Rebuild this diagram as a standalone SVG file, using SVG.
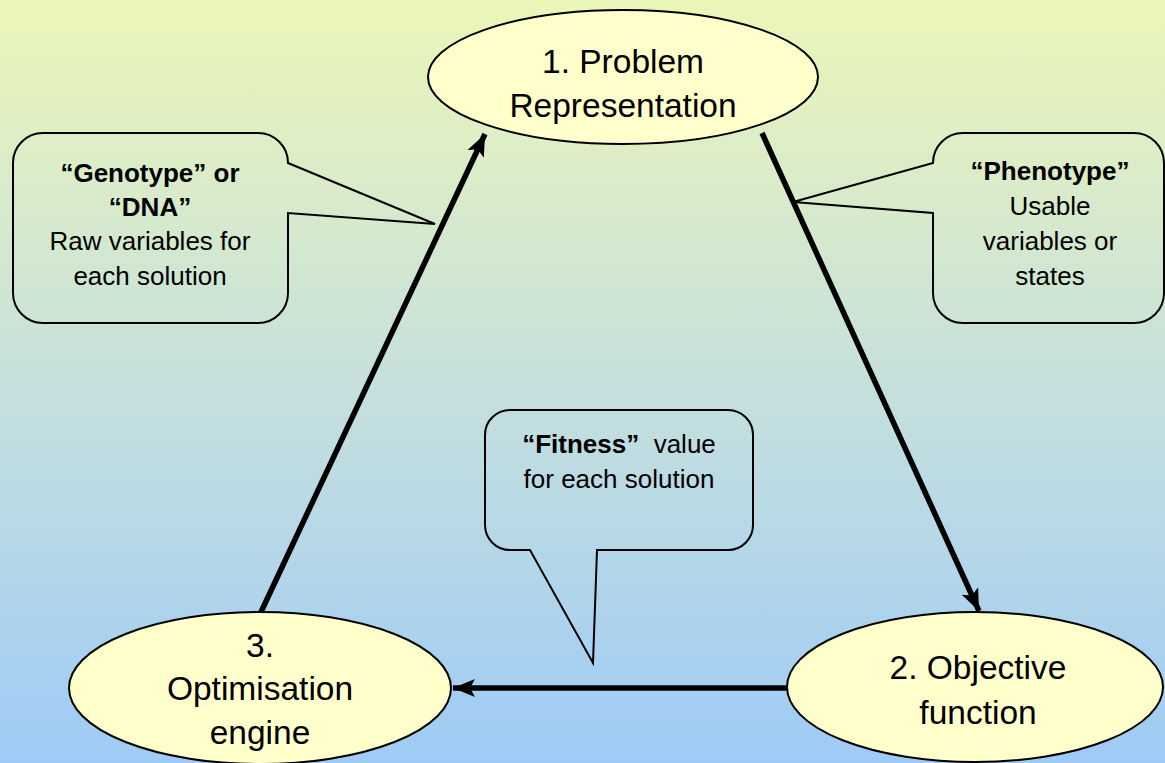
<svg xmlns="http://www.w3.org/2000/svg" width="1165" height="763" viewBox="0 0 1165 763">
<defs>
<linearGradient id="bg" x1="0" y1="0" x2="0" y2="1">
<stop offset="0" stop-color="#ecf6b8"/>
<stop offset="0.5" stop-color="#c6e0dc"/>
<stop offset="1" stop-color="#9ecbf6"/>
</linearGradient>
<marker id="ah" markerUnits="userSpaceOnUse" markerWidth="24" markerHeight="24" viewBox="0 0 24 24" refX="22" refY="12" orient="auto">
<path d="M0 3 L22 12 L0 21 L5 12 Z" fill="#000"/>
</marker>
<style>
.node{fill:#ffffcc;stroke:#000;stroke-width:2}
.call{fill:none;stroke:#000;stroke-width:2;stroke-linejoin:miter}
.t{font-family:"Liberation Sans",Arial,sans-serif;fill:#000;text-anchor:middle}
.big{font-size:33.5px}
.sm{font-size:26px}
.b{font-weight:bold}
.arr{stroke:#000;stroke-width:5.5;fill:none;marker-end:url(#ah)}
</style>
</defs>
<rect x="0" y="0" width="1165" height="763" fill="url(#bg)"/>
<g id="connectors">
<line class="arr" x1="261" y1="612" x2="485" y2="134"/>
<line class="arr" x1="762" y1="133" x2="979" y2="611"/>
<line class="arr" x1="787" y1="688" x2="453" y2="688"/>
</g>
<g id="node1">
<ellipse class="node" cx="623" cy="77" rx="195" ry="67"/>
<text class="t big" x="623" y="73">1. Problem</text>
<text class="t big" x="623" y="117">Representation</text>
</g>
<g id="node2">
<ellipse class="node" cx="975" cy="687" rx="188" ry="75"/>
<text class="t big" x="978" y="679">2. Objective</text>
<text class="t big" x="978" y="724">function</text>
</g>
<g id="node3">
<ellipse class="node" cx="260" cy="688" rx="191" ry="76"/>
<text class="t big" x="260" y="657">3.</text>
<text class="t big" x="260" y="700">Optimisation</text>
<text class="t big" x="260" y="744">engine</text>
</g>
<g id="callout-genotype">
<path class="call" d="M43 133 H258 A30 30 0 0 1 288 163 L435 224 L288 213 V293 A30 30 0 0 1 258 323 H43 A30 30 0 0 1 13 293 V163 A30 30 0 0 1 43 133 Z"/>
<text class="t sm b" x="150" y="182">“Genotype” or</text>
<text class="t sm b" x="150" y="216">“DNA”</text>
<text class="t sm" x="150" y="250">Raw variables for</text>
<text class="t sm" x="150" y="285">each solution</text>
</g>
<g id="callout-phenotype">
<path class="call" d="M963 133 H1134 A30 30 0 0 1 1164 163 V293 A30 30 0 0 1 1134 323 H963 A30 30 0 0 1 933 293 V213 L793 202 L933 163 A30 30 0 0 1 963 133 Z"/>
<text class="t sm b" x="1050" y="180">“Phenotype”</text>
<text class="t sm" x="1050" y="215">Usable</text>
<text class="t sm" x="1050" y="250">variables or</text>
<text class="t sm" x="1050" y="285">states</text>
</g>
<g id="callout-fitness">
<path class="call" d="M510 410 H728 A25 25 0 0 1 753 435 V525 A25 25 0 0 1 728 550 H597 L593 663 L530 550 H510 A25 25 0 0 1 485 525 V435 A25 25 0 0 1 510 410 Z"/>
<text class="t sm" x="619" y="453" xml:space="preserve"><tspan class="b">“Fitness”</tspan>  value</text>
<text class="t sm" x="619" y="488">for each solution</text>
</g>
</svg>
